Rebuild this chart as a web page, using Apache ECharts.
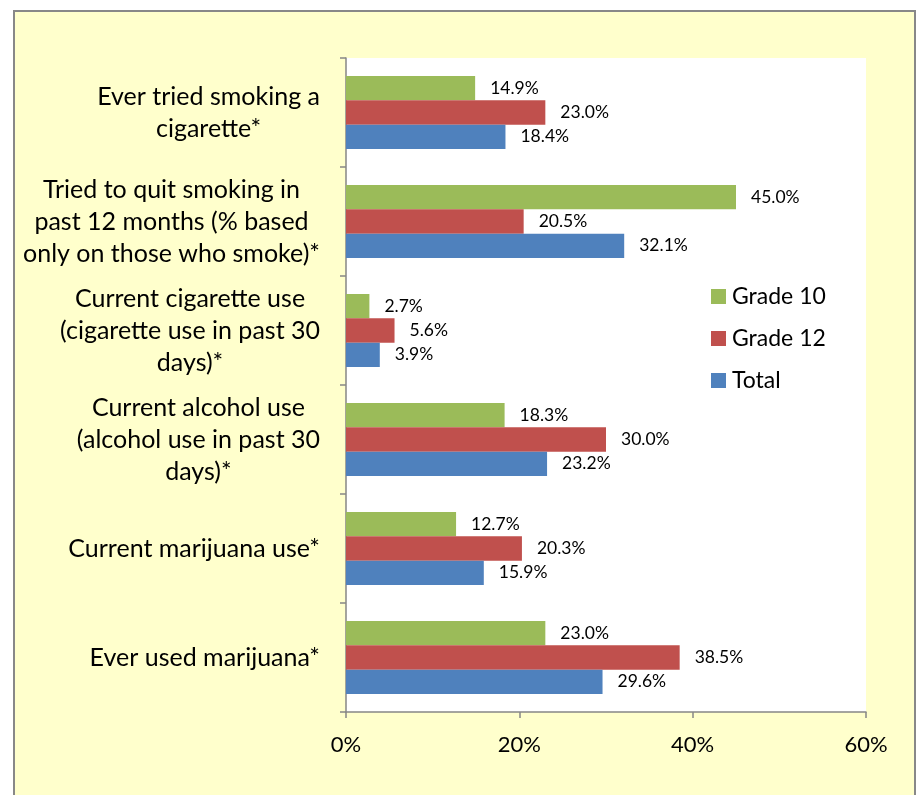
<!DOCTYPE html>
<html>
<head>
<meta charset="utf-8">
<script src="https://cdn.jsdelivr.net/npm/echarts@6/dist/echarts.min.js"></script>
<style>
html,body{margin:0;padding:0;background:#fff;}
#chart{width:919px;height:795px;}
</style>
</head>
<body>
<div id="chart"></div>
<script>
var categories = [
  "Ever tried smoking a\ncigarette*",
  "Tried to quit smoking in\npast 12 months (% based\nonly on those who smoke)*",
  "Current cigarette use\n(cigarette use in past 30\ndays)*",
  "Current alcohol use\n(alcohol use in past 30\ndays)*",
  "Current marijuana use*",
  "Ever used marijuana*"
];
var grade10 = [14.9, 45.0, 2.7, 18.3, 12.7, 23.0];
var grade12 = [23.0, 20.5, 5.6, 30.0, 20.3, 38.5];
var total = [18.4, 32.1, 3.9, 23.2, 15.9, 29.6];
var seriesNames = ["Grade 10", "Grade 12", "Total"];
var xTicks = [0, 20, 40, 60];

var FONT = "Lato";
var colors = ["#9BBB59", "#C0504D", "#4F81BD"];

function mkSeries(name, data, color) {
  return {
    name: name,
    type: "bar",
    data: data,
    barGap: "0%",
    barCategoryGap: "33%",
    itemStyle: { color: color },
    label: {
      show: true,
      position: "right",
      distance: 15,
      fontFamily: FONT,
      fontSize: 17.5,
      color: "#000",
      formatter: function (p) { return p.value.toFixed(1) + "%"; }
    }
  };
}

var chart = echarts.init(document.getElementById("chart"), null, { renderer: "canvas" });
chart.setOption({
  backgroundColor: "#ffffff",
  animation: false,
  textStyle: { fontFamily: FONT },
  graphic: [{
    type: "rect",
    z: -100,
    shape: { x: 14, y: 11, width: 901, height: 900 },
    style: { fill: "#FFFFCC", stroke: "#888888", lineWidth: 2 }
  }],
  grid: {
    left: 346, top: 58, right: 53, bottom: 83,
    show: true, backgroundColor: "#ffffff", borderWidth: 0
  },
  legend: {
    orient: "vertical",
    left: 706, top: 280,
    itemWidth: 15, itemHeight: 15, itemGap: 19,
    icon: "rect",
    data: seriesNames,
    textStyle: { fontFamily: FONT, fontSize: 23, color: "#000", padding: [0, 0, 0, 1] }
  },
  xAxis: {
    type: "value",
    min: xTicks[0], max: xTicks[xTicks.length - 1], interval: 20,
    splitLine: { show: false },
    axisLine: { show: true, lineStyle: { color: "#868686", width: 1.5 } },
    axisTick: { show: true, length: 6, lineStyle: { color: "#868686", width: 1.5 } },
    axisLabel: { fontFamily: FONT, fontSize: 22, color: "#000", margin: 22, formatter: "{value}%" }
  },
  yAxis: {
    type: "category",
    inverse: true,
    data: categories,
    axisLine: { show: true, lineStyle: { color: "#868686", width: 1.5 } },
    axisTick: { show: true, length: 6, lineStyle: { color: "#868686", width: 1.5 } },
    axisLabel: {
      fontFamily: FONT, fontSize: 25, color: "#000", margin: 26,
      align: "right", lineHeight: 32,
      formatter: function (v) {
        return v.split("\n").map(function (l) { return "{c|" + l + "}"; }).join("\n");
      },
      rich: { c: { align: "center", fontFamily: FONT, fontSize: 25, lineHeight: 32, color: "#000" } }
    }
  },
  series: [
    mkSeries(seriesNames[0], grade10, colors[0]),
    mkSeries(seriesNames[1], grade12, colors[1]),
    mkSeries(seriesNames[2], total, colors[2])
  ]
});
</script>
</body>
</html>
